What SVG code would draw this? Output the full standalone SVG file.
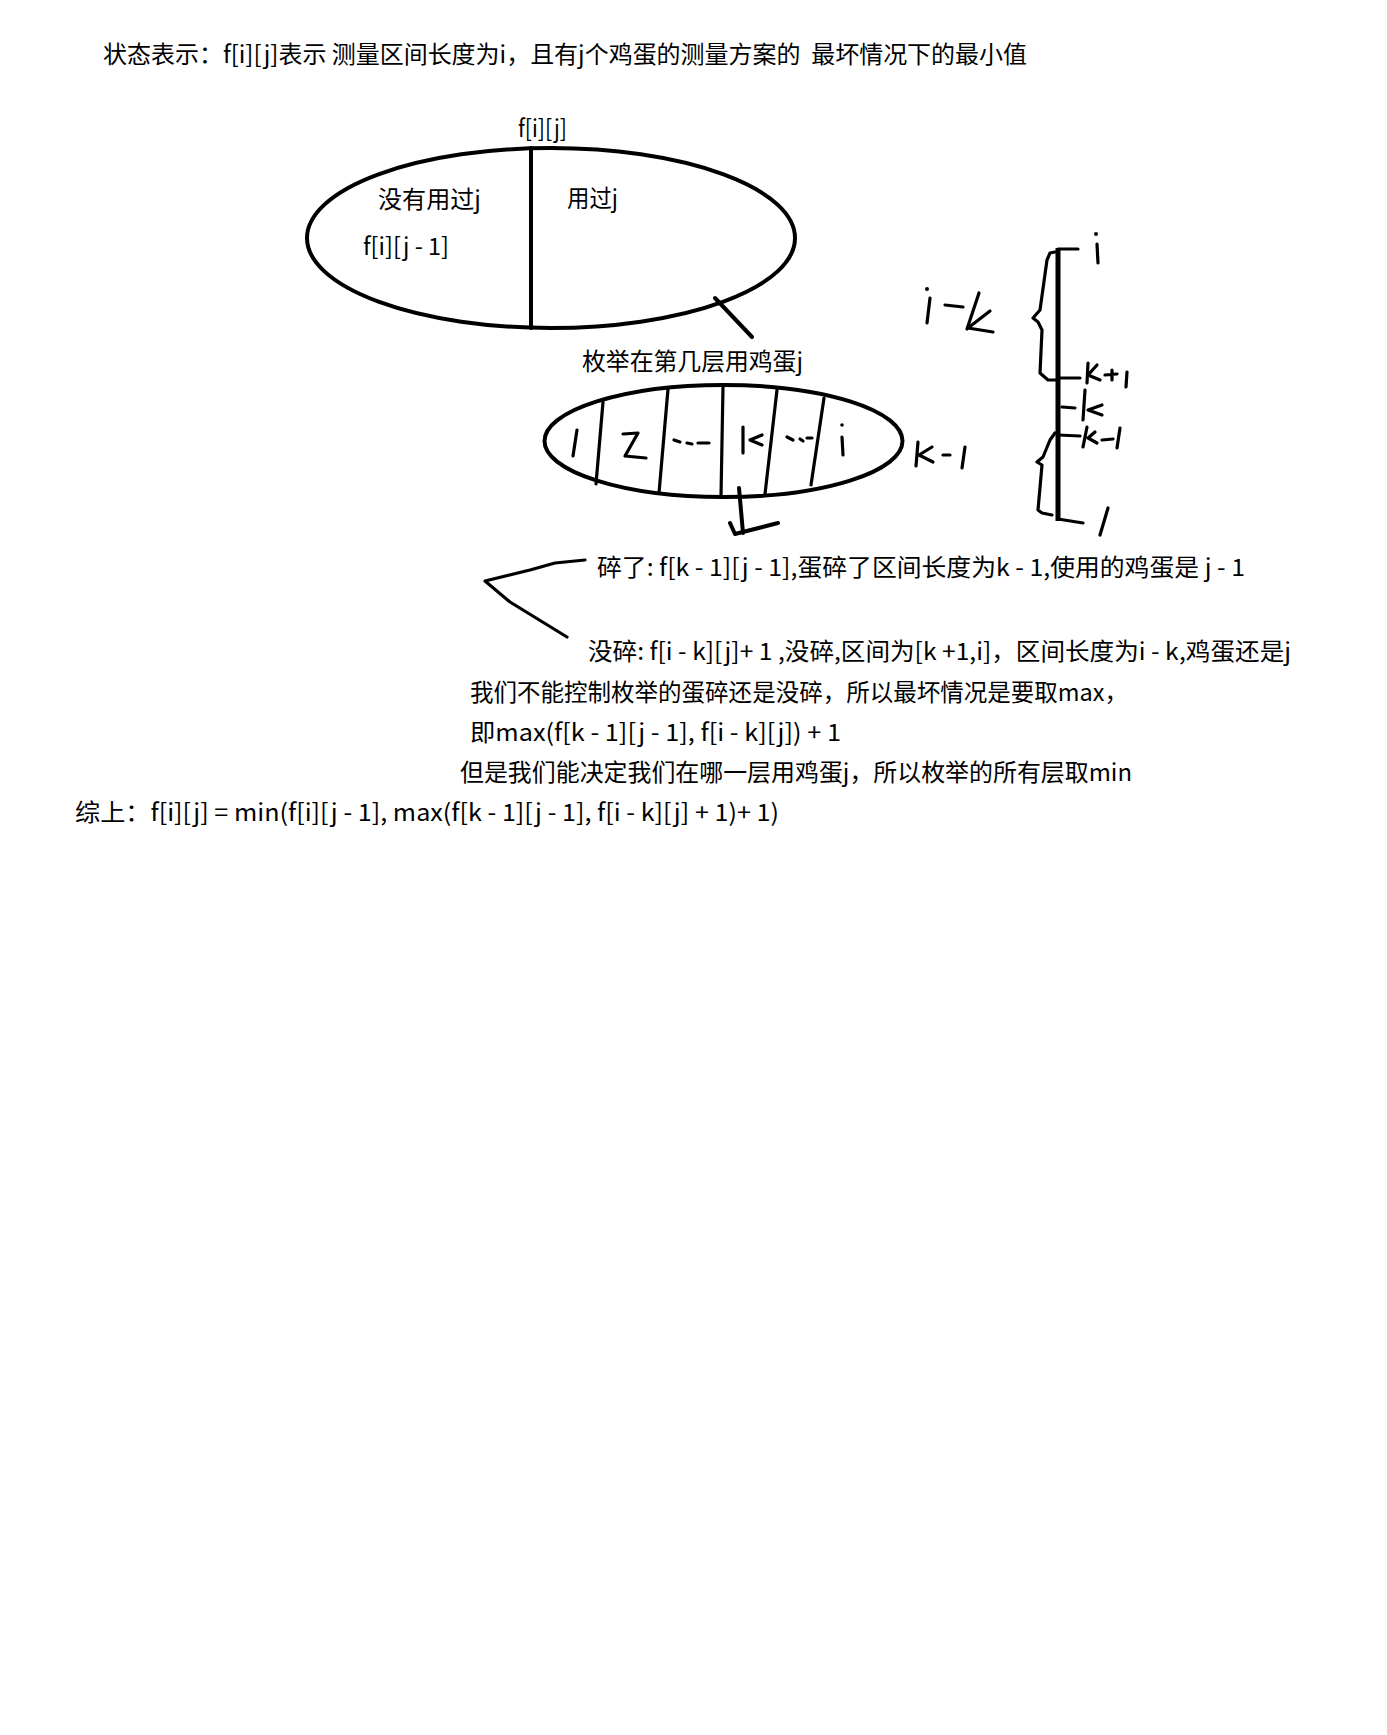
<svg xmlns="http://www.w3.org/2000/svg" width="1387" height="1735" viewBox="0 0 1387 1735">
<style>
  text { font-family: "Noto Sans CJK SC", "Noto Sans", sans-serif; font-size: 24px; fill: #000; }
  .shape { fill: none; stroke: #000; stroke-width: 4; stroke-linecap: round; stroke-linejoin: round; }
  .pen { fill: none; stroke: #000; stroke-width: 3.2; stroke-linecap: round; stroke-linejoin: round; }
  .bar { fill: none; stroke: #000; stroke-width: 5; stroke-linecap: butt; }
</style>
<rect width="1387" height="1735" fill="#fff"/>

<g id="title">
  <text x="103" y="63" textLength="924" lengthAdjust="spacingAndGlyphs" xml:space="preserve">状态表示：f[i][j]表示 测量区间长度为i，且有j个鸡蛋的测量方案的  最坏情况下的最小值</text>
</g>

<g id="node-fij">
  <text x="518" y="137" textLength="49" lengthAdjust="spacingAndGlyphs">f[i][j]</text>
  <ellipse class="shape" cx="551" cy="238" rx="244" ry="90"/>
  <line class="shape" x1="531" y1="148" x2="531" y2="328"/>
  <text x="378" y="208" textLength="103" lengthAdjust="spacingAndGlyphs">没有用过j</text>
  <text x="363" y="255" textLength="86" lengthAdjust="spacingAndGlyphs">f[i][j - 1]</text>
  <text x="567" y="207" textLength="51" lengthAdjust="spacingAndGlyphs">用过j</text>
</g>

<g id="node-enum">
  <text x="582" y="370" textLength="221" lengthAdjust="spacingAndGlyphs">枚举在第几层用鸡蛋j</text>
  <ellipse class="shape" cx="723.5" cy="441" rx="179" ry="56"/>
  <line class="pen" x1="603" y1="402" x2="596" y2="484"/>
  <line class="pen" x1="668" y1="389" x2="659" y2="493"/>
  <line class="pen" x1="723" y1="387" x2="721" y2="496"/>
  <line class="pen" x1="777" y1="390" x2="765" y2="494"/>
  <line class="pen" x1="824" y1="398" x2="811" y2="485"/>
  <path class="pen" d="M577 430 L573 456"/>
  <path class="pen" d="M623 434 L638 433 L625 456 L646 458"/>
  <path class="pen" d="M674 440 L680 442 M687 443 L692 444 M698 443 L709 443"/>
  <path class="pen" d="M743 427 L743 453 M762 435 L750 440 L762 445"/>
  <path class="pen" d="M787 437 L793 440 M800 439 L803 441 M807 438 L812 438"/>
  <circle cx="842" cy="425" r="1.8" fill="#000"/>
  <path class="pen" d="M842 437 L843 455"/>
</g>

<g id="node-numberline">
  <line class="bar" x1="1058" y1="248" x2="1058" y2="521"/>
  <path class="pen" d="M1058 249 L1078 249"/>
  <circle cx="1096" cy="234" r="2" fill="#000"/>
  <path class="pen" d="M1097 244 L1098 263"/>
  <path class="pen" d="M1055 252 L1050 253 L1047 260 L1040 310 L1033 318 L1038 322 L1042 330 L1040 373 L1048 380 L1058 380"/>
  <path class="pen" d="M1058 378 L1080 378"/>
  <path class="pen" d="M1088 363 L1087 383 M1097 365 L1088 375 L1100 380"/>
  <path class="pen" d="M1105 375 L1117 374 M1112 370 L1112 380"/>
  <path class="pen" d="M1127 372 L1126 387"/>
  <path class="pen" d="M1062 407 L1075 408"/>
  <path class="pen" d="M1085 390 L1083 420 M1102 405 L1088 410 L1102 415"/>
  <path class="pen" d="M1058 435 L1080 436"/>
  <path class="pen" d="M1087 427 L1083 447 M1095 432 L1088 438 L1097 443"/>
  <path class="pen" d="M1102 440 L1113 439 M1120 428 L1117 448"/>
  <path class="pen" d="M1055 433 L1050 440 L1043 457 L1037 462 L1042 465 L1038 510 L1042 513 L1052 515"/>
  <path class="pen" d="M1058 519 L1083 523"/>
  <path class="pen" d="M1108 508 L1100 535"/>
  <circle cx="927" cy="289" r="2" fill="#000"/>
  <path class="pen" d="M930 298 L927 323"/>
  <path class="pen" d="M945 305 L963 307"/>
  <path class="pen" d="M979 293 L967 329 M990 311 L968 328 L993 332"/>
  <path class="pen" d="M918 442 L916 466 M932 447 L919 455 L933 462"/>
  <path class="pen" d="M943 455 L950 455"/>
  <path class="pen" d="M965 447 L962 468"/>
</g>

<g id="node-cases">
  <text x="597" y="576" textLength="648" lengthAdjust="spacingAndGlyphs">碎了: f[k - 1][j - 1],蛋碎了区间长度为k - 1,使用的鸡蛋是 j - 1</text>
  <text x="588" y="660" textLength="703" lengthAdjust="spacingAndGlyphs">没碎: f[i - k][j]+ 1 ,没碎,区间为[k +1,i]，区间长度为i - k,鸡蛋还是j</text>
</g>

<g id="node-summary">
  <text x="470" y="701" textLength="658" lengthAdjust="spacingAndGlyphs">我们不能控制枚举的蛋碎还是没碎，所以最坏情况是要取max，</text>
  <text x="470" y="741" textLength="371" lengthAdjust="spacingAndGlyphs">即max(f[k - 1][j - 1], f[i - k][j]) + 1</text>
  <text x="460" y="781" textLength="672" lengthAdjust="spacingAndGlyphs">但是我们能决定我们在哪一层用鸡蛋j，所以枚举的所有层取min</text>
  <text x="75" y="821" textLength="704" lengthAdjust="spacingAndGlyphs">综上：f[i][j] = min(f[i][j - 1], max(f[k - 1][j - 1], f[i - k][j] + 1)+ 1)</text>
</g>

<g id="connectors">
  <line class="shape" x1="715" y1="298" x2="752" y2="337"/>
  <path class="shape" d="M739 488 L743 533 M730 523 L735 534 L778 523"/>
  <path class="pen" d="M585 560 L555 563 L530 570 L485 581 L510 602 L567 637"/>
</g>
</svg>
